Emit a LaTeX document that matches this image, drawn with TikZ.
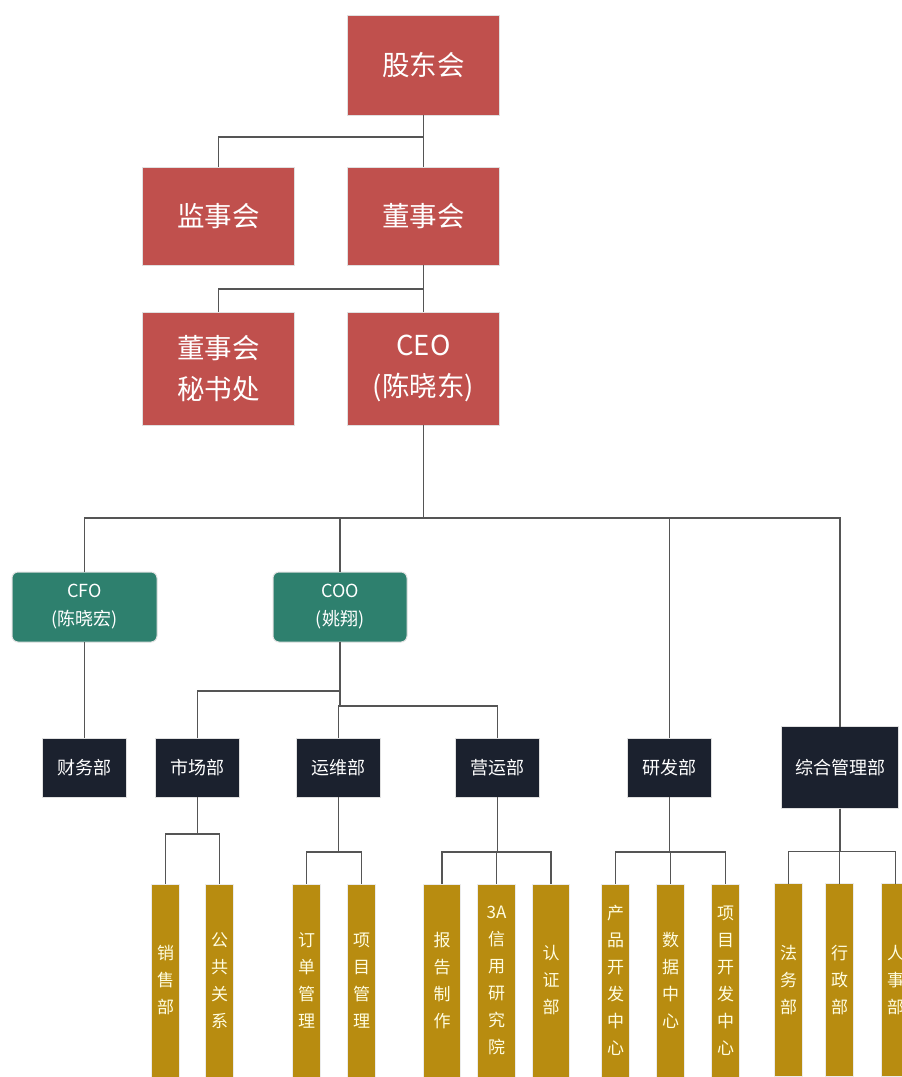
\documentclass[tikz,border=0pt]{standalone}
\usepackage{fontspec}
\setmainfont{Noto Sans CJK SC}
\usetikzlibrary{positioning}
\definecolor{boardred}{RGB}{192,80,77}
\definecolor{officegreen}{RGB}{46,128,110}
\definecolor{deptnavy}{RGB}{27,33,46}
\definecolor{teamgold}{RGB}{184,140,16}
\definecolor{linegray}{RGB}{85,85,85}
\tikzstyle{board} = [rectangle, draw=black!12, line width=1pt, outer sep=0pt, fill=boardred, text=white, align=center, minimum width=152pt, font=\fontsize{27.5}{41}\selectfont]
\tikzstyle{officer} = [rectangle, rounded corners=6pt, draw=black!12, line width=1pt, outer sep=0pt, fill=officegreen, text=white, align=center, minimum height=70pt, font=\fontsize{18}{28}\selectfont]
\tikzstyle{dept} = [rectangle, draw=black!12, line width=1pt, outer sep=0pt, fill=deptnavy, text=white, align=center, minimum width=84pt, minimum height=59pt, font=\fontsize{18}{24}\selectfont]
\tikzstyle{team} = [rectangle, draw=black!8, line width=1pt, outer sep=0pt, fill=teamgold, text=white!88!yellow, align=center, inner sep=0pt, minimum width=28pt, minimum height=193pt, font=\fontsize{17}{27}\selectfont]
\tikzstyle{orgline} = [draw=linegray, line width=1.2pt]

\begin{document}
\begin{tikzpicture}[x=1pt, y=1pt, node distance=50pt]
	\useasboundingbox (0,0) rectangle (902,-1077);

	% Board level
	\node (gudong) [board, minimum height=100pt] at (423.5,-65) {股东会};
	\node (dongshi) [board, below=52pt of gudong, minimum height=98pt] {董事会};
	\node (jianshi) [board, left=53pt of dongshi, minimum height=98pt] {监事会};
	\node (ceo) [board, below=47pt of dongshi, minimum height=113pt] {CEO\\(陈晓东)};
	\node (mishu) [board, left=53pt of ceo, minimum height=113pt] {董事会\\秘书处};

	% Officers
	\node (cfo) [officer, below=147pt of ceo, xshift=-339pt, minimum width=145pt] {CFO\\(陈晓宏)};
	\node (coo) [officer, right=116pt of cfo, minimum width=134pt] {COO\\(姚翔)};

	% Departments
	\node (caiwu) [dept, below=96pt of cfo] {财务部};
	\node (shichang) [dept, right=29pt of caiwu] {市场部};
	\node (yunwei) [dept, right=57pt of shichang] {运维部};
	\node (yingyun) [dept, right=75pt of yunwei] {营运部};
	\node (yanfa) [dept, right=88pt of yingyun] {研发部};
	\node (zonghe) [dept, right=70pt of yanfa, minimum width=117pt, minimum height=82pt] {综合管理部};

	% Teams
	\node (xiaoshou) [team, below=87pt of shichang, xshift=-32pt] {销\\售\\部};
	\node (gonggong) [team, right=26pt of xiaoshou] {公\\共\\关\\系};
	\node (dingdan) [team, below=87pt of yunwei, xshift=-32pt] {订\\单\\管\\理};
	\node (xiangmu) [team, right=27pt of dingdan] {项\\目\\管\\理};
	\node (baogao) [team, below=87pt of yingyun, xshift=-55.5pt, minimum width=37pt] {报\\告\\制\\作};
	\node (xinyong) [team, right=17pt of baogao, minimum width=38pt] {3A\\信\\用\\研\\究\\院};
	\node (renzheng) [team, right=17pt of xinyong, minimum width=37pt] {认\\证\\部};
	\node (chanpin) [team, below=87pt of yanfa, xshift=-54pt] {产\\品\\开\\发\\中\\心};
	\node (shuju) [team, right=27pt of chanpin] {数\\据\\中\\心};
	\node (kaifa) [team, right=27pt of shuju] {项\\目\\开\\发\\中\\心};
	\node (fawu) [team, below=75pt of zonghe, xshift=-51.5pt] {法\\务\\部};
	\node (xingzheng) [team, right=23pt of fawu] {行\\政\\部};
	\node (renshi) [team, right=28pt of xingzheng] {人\\事\\部};

	% Lines - board
	\draw[orgline] (gudong) -- (dongshi);
	\draw[orgline] (gudong.south) -- ++(0,-22) -| (jianshi.north);
	\draw[orgline] (dongshi) -- (ceo);
	\draw[orgline] (dongshi.south) -- ++(0,-24) -| (mishu.north);

	% Lines - CEO
	\foreach \n in {cfo, coo, yanfa, zonghe}
		\draw[orgline] (ceo.south) -- ++(0,-93) -| (\n.north);

	% Lines - officers
	\draw[orgline] (cfo) -- (caiwu);
	\draw[orgline] (coo.south) -- ++(0,-49) -| (shichang.north);
	\draw[orgline] (coo.south) -- ++(0,-64) -| (yunwei.north);
	\draw[orgline] (coo.south) -- ++(0,-64) -| (yingyun.north);

	% Lines - teams
	\foreach \n in {xiaoshou, gonggong}
		\draw[orgline] (shichang.south) -- ++(0,-37) -| (\n.north);
	\foreach \n in {dingdan, xiangmu}
		\draw[orgline] (yunwei.south) -- ++(0,-55) -| (\n.north);
	\foreach \n in {baogao, xinyong, renzheng}
		\draw[orgline] (yingyun.south) -- ++(0,-55) -| (\n.north);
	\foreach \n in {chanpin, shuju, kaifa}
		\draw[orgline] (yanfa.south) -- ++(0,-55) -| (\n.north);
	\foreach \n in {fawu, xingzheng, renshi}
		\draw[orgline] (zonghe.south) -- ++(0,-43) -| (\n.north);

\end{tikzpicture}
\end{document}
